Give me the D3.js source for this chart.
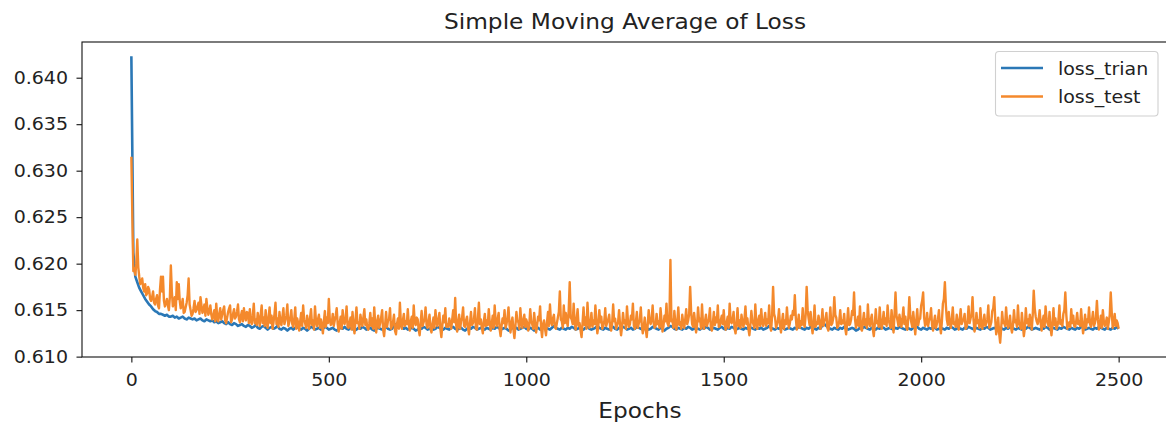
<!DOCTYPE html>
<html>
<head>
<meta charset="utf-8">
<script src="https://cdn.jsdelivr.net/npm/d3@7"></script>
<style>
  body { margin: 0; background: #fff; }
  svg { display: block; }
  text { font-family: "DejaVu Sans", sans-serif; fill: #222; }
</style>
</head>
<body>
<svg id="chart" width="1166" height="426"></svg>
<script>
// Moving-average loss. Train loss sampled every 5 epochs, test loss every 2.5 epochs (0 .. 2500)
const trainStep = 5;
const testStep = 2.5;

const lossTrain = [
  0.6423,0.6212,0.6186,0.6180,0.6174,0.6170,0.6166,0.6162,0.6159,0.6156,0.6154,0.6151,0.6149,0.6148,0.6146,0.6146,0.6145,0.6144,0.6145,0.6143,
  0.6143,0.6144,0.6142,0.6143,0.6141,0.6142,0.6143,0.6141,0.6140,0.6142,0.6141,0.6140,0.6141,0.6139,0.6140,0.6141,0.6139,0.6138,0.6140,0.6139,
  0.6138,0.6139,0.6137,0.6138,0.6136,0.6137,0.6138,0.6136,0.6135,0.6137,0.6135,0.6134,0.6136,0.6135,0.6133,0.6134,0.6135,0.6133,0.6132,0.6134,
  0.6133,0.6131,0.6132,0.6134,0.6131,0.6130,0.6132,0.6133,0.6131,0.6129,0.6131,0.6132,0.6130,0.6131,0.6133,0.6130,0.6129,0.6131,0.6130,0.6128,
  0.6130,0.6131,0.6129,0.6131,0.6132,0.6130,0.6129,0.6131,0.6130,0.6128,0.6130,0.6132,0.6131,0.6129,0.6130,0.6131,0.6129,0.6130,0.6132,0.6131,
  0.6129,0.6130,0.6131,0.6129,0.6128,0.6130,0.6131,0.6130,0.6132,0.6130,0.6129,0.6131,0.6130,0.6128,0.6129,0.6131,0.6130,0.6132,0.6131,0.6129,
  0.6130,0.6131,0.6129,0.6128,0.6130,0.6131,0.6130,0.6129,0.6131,0.6132,0.6130,0.6129,0.6130,0.6133,0.6135,0.6136,0.6134,0.6132,0.6130,0.6131,
  0.6129,0.6130,0.6131,0.6130,0.6128,0.6129,0.6131,0.6130,0.6132,0.6131,0.6129,0.6130,0.6131,0.6129,0.6130,0.6132,0.6131,0.6130,0.6129,0.6131,
  0.6130,0.6129,0.6131,0.6132,0.6130,0.6129,0.6130,0.6131,0.6129,0.6128,0.6130,0.6131,0.6130,0.6132,0.6131,0.6129,0.6130,0.6131,0.6130,0.6129,
  0.6131,0.6130,0.6129,0.6131,0.6130,0.6132,0.6131,0.6129,0.6130,0.6131,0.6130,0.6128,0.6129,0.6131,0.6130,0.6131,0.6129,0.6130,0.6131,0.6132,
  0.6130,0.6129,0.6131,0.6130,0.6128,0.6130,0.6131,0.6129,0.6130,0.6132,0.6131,0.6130,0.6129,0.6131,0.6133,0.6131,0.6130,0.6129,0.6131,0.6130,
  0.6129,0.6131,0.6130,0.6132,0.6131,0.6129,0.6130,0.6131,0.6130,0.6129,0.6131,0.6132,0.6130,0.6129,0.6130,0.6131,0.6133,0.6131,0.6130,0.6129,
  0.6131,0.6130,0.6129,0.6131,0.6132,0.6130,0.6129,0.6131,0.6130,0.6132,0.6131,0.6129,0.6130,0.6131,0.6129,0.6130,0.6132,0.6131,0.6130,0.6129,
  0.6130,0.6131,0.6129,0.6130,0.6132,0.6131,0.6130,0.6129,0.6131,0.6130,0.6128,0.6130,0.6131,0.6133,0.6132,0.6130,0.6129,0.6131,0.6130,0.6129,
  0.6131,0.6130,0.6132,0.6131,0.6129,0.6130,0.6131,0.6130,0.6129,0.6131,0.6130,0.6132,0.6131,0.6129,0.6130,0.6131,0.6130,0.6129,0.6131,0.6132,
  0.6130,0.6129,0.6131,0.6130,0.6132,0.6131,0.6129,0.6130,0.6131,0.6130,0.6129,0.6131,0.6130,0.6132,0.6131,0.6130,0.6129,0.6131,0.6130,0.6131,
  0.6129,0.6130,0.6131,0.6133,0.6131,0.6130,0.6129,0.6131,0.6130,0.6132,0.6131,0.6129,0.6130,0.6131,0.6130,0.6129,0.6131,0.6130,0.6132,0.6131,
  0.6130,0.6129,0.6131,0.6130,0.6132,0.6131,0.6130,0.6129,0.6131,0.6130,0.6134,0.6135,0.6133,0.6131,0.6130,0.6129,0.6131,0.6130,0.6129,0.6131,
  0.6130,0.6132,0.6131,0.6129,0.6130,0.6131,0.6130,0.6128,0.6129,0.6131,0.6130,0.6132,0.6131,0.6130,0.6129,0.6131,0.6130,0.6129,0.6131,0.6130,
  0.6132,0.6131,0.6129,0.6130,0.6131,0.6130,0.6129,0.6131,0.6130,0.6132,0.6131,0.6130,0.6129,0.6131,0.6130,0.6129,0.6131,0.6133,0.6132,0.6130,
  0.6129,0.6131,0.6130,0.6129,0.6131,0.6130,0.6132,0.6131,0.6129,0.6130,0.6131,0.6130,0.6129,0.6131,0.6130,0.6132,0.6131,0.6129,0.6130,0.6131,
  0.6130,0.6129,0.6131,0.6130,0.6132,0.6131,0.6130,0.6129,0.6131,0.6130,0.6129,0.6131,0.6130,0.6132,0.6131,0.6129,0.6130,0.6131,0.6130,0.6129,
  0.6131,0.6130,0.6129,0.6131,0.6130,0.6132,0.6131,0.6130,0.6129,0.6131,0.6130,0.6129,0.6131,0.6130,0.6132,0.6131,0.6129,0.6130,0.6131,0.6130,
  0.6129,0.6131,0.6130,0.6132,0.6131,0.6129,0.6130,0.6131,0.6130,0.6129,0.6131,0.6130,0.6132,0.6131,0.6130,0.6129,0.6131,0.6130,0.6129,0.6131,
  0.6130,0.6132,0.6131,0.6129,0.6130,0.6131,0.6130,0.6129,0.6131,0.6130,0.6132,0.6131,0.6130,0.6129,0.6131,0.6130,0.6129,0.6131,0.6130,0.6132,
  0.6130
];

const lossTest = [
  0.6315,0.6250,0.6192,0.6195,0.6188,0.6200,0.6226,0.6196,0.6186,0.6178,0.6180,0.6184,0.6174,0.6170,0.6178,0.6166,0.6168,0.6175,0.6172,0.6162,0.6160,0.6164,0.6170,0.6158,0.6156,0.6162,0.6166,0.6155,0.6152,0.6172,0.6186,0.6170,0.6186,0.6160,0.6154,0.6158,0.6162,0.6155,0.6150,0.6164,
  0.6198,0.6170,0.6154,0.6158,0.6164,0.6150,0.6180,0.6162,0.6178,0.6160,0.6152,0.6155,0.6162,0.6147,0.6148,0.6153,0.6158,0.6166,0.6184,0.6156,0.6150,0.6144,0.6146,0.6152,0.6160,0.6148,0.6150,0.6154,0.6158,0.6146,0.6164,0.6155,0.6147,0.6150,0.6156,0.6144,0.6162,0.6152,0.6145,0.6149,
  0.6155,0.6145,0.6140,0.6144,0.6150,0.6138,0.6157,0.6142,0.6138,0.6146,0.6152,0.6140,0.6145,0.6150,0.6154,0.6139,0.6136,0.6142,0.6148,0.6152,0.6155,0.6137,0.6140,0.6146,0.6151,0.6141,0.6143,0.6148,0.6156,0.6140,0.6137,0.6144,0.6149,0.6138,0.6152,0.6143,0.6139,0.6148,0.6147,0.6136,
  0.6151,0.6138,0.6135,0.6144,0.6157,0.6136,0.6140,0.6134,0.6147,0.6140,0.6133,0.6145,0.6155,0.6136,0.6142,0.6133,0.6150,0.6138,0.6131,0.6142,0.6153,0.6136,0.6144,0.6130,0.6137,0.6146,0.6158,0.6135,0.6141,0.6132,0.6148,0.6137,0.6134,0.6143,0.6152,0.6135,0.6139,0.6144,0.6156,0.6133,
  0.6137,0.6142,0.6150,0.6135,0.6132,0.6140,0.6153,0.6130,0.6141,0.6136,0.6128,0.6138,0.6147,0.6133,0.6155,0.6140,0.6136,0.6131,0.6144,0.6136,0.6130,0.6142,0.6151,0.6134,0.6139,0.6129,0.6154,0.6138,0.6133,0.6140,0.6145,0.6131,0.6140,0.6134,0.6125,0.6138,0.6149,0.6132,0.6142,0.6136,
  0.6162,0.6140,0.6134,0.6136,0.6146,0.6133,0.6139,0.6144,0.6152,0.6135,0.6127,0.6136,0.6143,0.6130,0.6150,0.6138,0.6135,0.6141,0.6154,0.6132,0.6131,0.6137,0.6142,0.6129,0.6148,0.6134,0.6125,0.6139,0.6153,0.6136,0.6137,0.6130,0.6145,0.6138,0.6133,0.6142,0.6151,0.6134,0.6140,0.6131,
  0.6129,0.6136,0.6147,0.6133,0.6141,0.6130,0.6153,0.6135,0.6126,0.6138,0.6144,0.6131,0.6136,0.6142,0.6150,0.6129,0.6122,0.6134,0.6148,0.6132,0.6139,0.6140,0.6152,0.6130,0.6133,0.6137,0.6145,0.6128,0.6124,0.6135,0.6141,0.6130,0.6158,0.6136,0.6130,0.6139,0.6146,0.6133,0.6138,0.6135,
  0.6151,0.6135,0.6128,0.6138,0.6143,0.6131,0.6155,0.6137,0.6134,0.6142,0.6140,0.6129,0.6123,0.6136,0.6149,0.6133,0.6137,0.6140,0.6153,0.6134,0.6131,0.6138,0.6145,0.6130,0.6126,0.6135,0.6142,0.6131,0.6150,0.6138,0.6133,0.6140,0.6147,0.6130,0.6121,0.6134,0.6144,0.6137,0.6152,0.6132,
  0.6135,0.6132,0.6141,0.6136,0.6130,0.6140,0.6150,0.6137,0.6163,0.6134,0.6127,0.6138,0.6145,0.6130,0.6138,0.6142,0.6153,0.6133,0.6132,0.6139,0.6143,0.6131,0.6124,0.6136,0.6148,0.6134,0.6136,0.6140,0.6152,0.6130,0.6129,0.6141,0.6158,0.6135,0.6140,0.6131,0.6125,0.6138,0.6146,0.6133,
  0.6139,0.6134,0.6151,0.6137,0.6128,0.6135,0.6144,0.6131,0.6155,0.6138,0.6133,0.6140,0.6147,0.6130,0.6122,0.6133,0.6141,0.6136,0.6150,0.6131,0.6135,0.6142,0.6153,0.6134,0.6126,0.6137,0.6142,0.6129,0.6120,0.6133,0.6148,0.6138,0.6137,0.6130,0.6152,0.6136,0.6131,0.6140,0.6145,0.6132,
  0.6140,0.6136,0.6128,0.6133,0.6151,0.6138,0.6135,0.6130,0.6147,0.6135,0.6126,0.6134,0.6143,0.6139,0.6154,0.6131,0.6121,0.6135,0.6139,0.6130,0.6123,0.6137,0.6148,0.6133,0.6156,0.6138,0.6134,0.6141,0.6145,0.6132,0.6130,0.6136,0.6142,0.6148,0.6170,0.6140,0.6138,0.6131,0.6155,0.6136,
  0.6147,0.6138,0.6133,0.6150,0.6180,0.6142,0.6140,0.6135,0.6157,0.6137,0.6129,0.6140,0.6151,0.6133,0.6136,0.6128,0.6121,0.6136,0.6153,0.6134,0.6142,0.6130,0.6158,0.6138,0.6131,0.6136,0.6147,0.6132,0.6139,0.6135,0.6155,0.6139,0.6125,0.6133,0.6150,0.6137,0.6143,0.6130,0.6133,0.6138,
  0.6152,0.6133,0.6137,0.6140,0.6145,0.6131,0.6128,0.6136,0.6156,0.6138,0.6141,0.6130,0.6134,0.6137,0.6150,0.6134,0.6123,0.6132,0.6147,0.6136,0.6139,0.6130,0.6154,0.6138,0.6132,0.6135,0.6144,0.6140,0.6157,0.6133,0.6130,0.6137,0.6148,0.6131,0.6136,0.6139,0.6153,0.6134,0.6125,0.6132,
  0.6142,0.6130,0.6121,0.6134,0.6150,0.6138,0.6135,0.6140,0.6155,0.6136,0.6131,0.6133,0.6146,0.6135,0.6138,0.6131,0.6152,0.6139,0.6127,0.6133,0.6144,0.6138,0.6157,0.6136,0.6133,0.6140,0.6204,0.6138,0.6140,0.6131,0.6149,0.6136,0.6129,0.6138,0.6153,0.6134,0.6137,0.6130,0.6145,0.6136,
  0.6131,0.6140,0.6151,0.6135,0.6139,0.6146,0.6175,0.6148,0.6135,0.6132,0.6147,0.6137,0.6126,0.6134,0.6153,0.6138,0.6141,0.6130,0.6156,0.6135,0.6130,0.6138,0.6145,0.6133,0.6137,0.6140,0.6152,0.6131,0.6128,0.6136,0.6148,0.6134,0.6142,0.6137,0.6155,0.6132,0.6133,0.6139,0.6144,0.6135,
  0.6150,0.6134,0.6129,0.6137,0.6143,0.6131,0.6157,0.6138,0.6136,0.6140,0.6148,0.6130,0.6125,0.6136,0.6152,0.6133,0.6139,0.6131,0.6145,0.6137,0.6132,0.6140,0.6154,0.6135,0.6141,0.6130,0.6123,0.6134,0.6149,0.6138,0.6135,0.6131,0.6156,0.6136,0.6130,0.6139,0.6144,0.6133,0.6151,0.6137,
  0.6133,0.6138,0.6147,0.6133,0.6140,0.6136,0.6155,0.6132,0.6128,0.6144,0.6175,0.6146,0.6142,0.6131,0.6135,0.6139,0.6151,0.6134,0.6126,0.6137,0.6146,0.6130,0.6139,0.6135,0.6153,0.6138,0.6131,0.6136,0.6144,0.6140,0.6149,0.6145,0.6166,0.6142,0.6129,0.6135,0.6145,0.6131,0.6138,0.6134,
  0.6152,0.6136,0.6132,0.6145,0.6175,0.6150,0.6141,0.6134,0.6148,0.6133,0.6125,0.6137,0.6155,0.6132,0.6137,0.6135,0.6144,0.6138,0.6130,0.6136,0.6151,0.6133,0.6139,0.6140,0.6147,0.6131,0.6128,0.6137,0.6153,0.6134,0.6136,0.6142,0.6164,0.6145,0.6142,0.6131,0.6133,0.6138,0.6150,0.6135,
  0.6139,0.6136,0.6146,0.6131,0.6124,0.6137,0.6152,0.6134,0.6135,0.6140,0.6149,0.6145,0.6169,0.6140,0.6131,0.6136,0.6143,0.6133,0.6154,0.6130,0.6128,0.6138,0.6147,0.6134,0.6140,0.6131,0.6156,0.6137,0.6133,0.6140,0.6145,0.6130,0.6122,0.6135,0.6151,0.6136,0.6138,0.6132,0.6153,0.6137,
  0.6130,0.6138,0.6148,0.6135,0.6141,0.6133,0.6155,0.6140,0.6135,0.6131,0.6150,0.6136,0.6126,0.6145,0.6169,0.6144,0.6139,0.6133,0.6145,0.6137,0.6132,0.6141,0.6153,0.6135,0.6143,0.6131,0.6129,0.6142,0.6164,0.6144,0.6137,0.6132,0.6148,0.6136,0.6124,0.6138,0.6151,0.6134,0.6140,0.6141,
  0.6155,0.6160,0.6169,0.6142,0.6133,0.6136,0.6147,0.6133,0.6139,0.6141,0.6152,0.6134,0.6128,0.6137,0.6144,0.6131,0.6136,0.6140,0.6150,0.6133,0.6125,0.6138,0.6157,0.6162,0.6180,0.6155,0.6140,0.6134,0.6148,0.6137,0.6131,0.6139,0.6153,0.6135,0.6137,0.6132,0.6145,0.6136,0.6129,0.6140,
  0.6151,0.6135,0.6138,0.6140,0.6146,0.6130,0.6132,0.6138,0.6154,0.6136,0.6141,0.6145,0.6164,0.6140,0.6127,0.6133,0.6147,0.6136,0.6139,0.6131,0.6152,0.6135,0.6130,0.6138,0.6145,0.6133,0.6136,0.6140,0.6155,0.6131,0.6133,0.6137,0.6149,0.6152,0.6164,0.6140,0.6124,0.6130,0.6142,0.6125,
  0.6115,0.6130,0.6148,0.6136,0.6137,0.6133,0.6153,0.6138,0.6131,0.6135,0.6144,0.6131,0.6126,0.6134,0.6150,0.6137,0.6139,0.6132,0.6155,0.6136,0.6133,0.6130,0.6147,0.6134,0.6122,0.6131,0.6152,0.6136,0.6140,0.6133,0.6145,0.6138,0.6129,0.6145,0.6171,0.6152,0.6143,0.6138,0.6135,0.6140,
  0.6150,0.6136,0.6128,0.6138,0.6144,0.6132,0.6154,0.6140,0.6136,0.6133,0.6148,0.6131,0.6123,0.6136,0.6152,0.6134,0.6141,0.6130,0.6133,0.6139,0.6155,0.6135,0.6139,0.6133,0.6146,0.6150,0.6169,0.6145,0.6130,0.6135,0.6137,0.6132,0.6151,0.6136,0.6144,0.6133,0.6132,0.6138,0.6147,0.6135,
  0.6138,0.6133,0.6151,0.6136,0.6125,0.6134,0.6145,0.6131,0.6140,0.6137,0.6153,0.6135,0.6132,0.6139,0.6148,0.6133,0.6136,0.6142,0.6160,0.6140,0.6129,0.6135,0.6144,0.6131,0.6150,0.6138,0.6133,0.6136,0.6142,0.6130,0.6137,0.6145,0.6169,0.6148,0.6131,0.6135,0.6146,0.6133,0.6139,0.6136,
  0.6130
];

const epochsTrain = d3.range(lossTrain.length).map(i => i * trainStep);
const epochsTest = d3.range(lossTest.length).map(i => i * testStep);

const xTicks = [0, 500, 1000, 1500, 2000, 2500];
const yTicks = [0.610, 0.615, 0.620, 0.625, 0.630, 0.635, 0.640];
const seriesNames = ["loss_trian", "loss_test"];
const seriesColors = ["#2b78b6", "#f4892c"];
const seriesWidths = [2.6, 2.4];
const titleText = "Simple Moving Average of Loss";
const xLabelText = "Epochs";

// Layout
const plot = { left: 82, top: 42, right: 1168, bottom: 357 };
const textStretch = 1.13;   // glyphs are a little wider than the font's natural width
const tickFont = 16.8;
const labelFont = 20.6;

const svg = d3.select("#chart");

const x = d3.scaleLinear().domain([-125, 2625]).range([plot.left, plot.right]);
const y = d3.scaleLinear().domain([0.60996, 0.64384]).range([plot.bottom, plot.top]);

function stretchText(sel, sx) {
  sel.each(function () {
    const t = d3.select(this);
    const tx = +t.attr("x") || 0;
    const ty = +t.attr("y") || 0;
    t.attr("x", 0).attr("y", 0)
     .attr("transform", `translate(${tx},${ty}) scale(${sx},1)`);
  });
}

// Clip region for the plotted lines
svg.append("defs").append("clipPath").attr("id", "plot-clip")
  .append("rect")
  .attr("x", plot.left).attr("y", plot.top)
  .attr("width", plot.right - plot.left).attr("height", plot.bottom - plot.top);

// Loss lines
const series = [
  { values: lossTrain, epochs: epochsTrain },
  { values: lossTest, epochs: epochsTest }
];

const linesG = svg.append("g").attr("clip-path", "url(#plot-clip)");
series.forEach((s, k) => {
  const line = d3.line()
    .x((d, i) => x(s.epochs[i]))
    .y(d => y(d));
  linesG.append("path")
    .datum(s.values)
    .attr("d", line)
    .attr("fill", "none")
    .attr("stroke", seriesColors[k])
    .attr("stroke-width", seriesWidths[k])
    .attr("stroke-linejoin", "round")
    .attr("stroke-linecap", "butt");
});

// Axes
const xAxis = svg.append("g")
  .attr("transform", `translate(0,${plot.bottom})`)
  .call(d3.axisBottom(x).tickValues(xTicks).tickFormat(d3.format("d"))
        .tickSize(5.5).tickPadding(12).tickSizeOuter(0));
const yAxis = svg.append("g")
  .attr("transform", `translate(${plot.left},0)`)
  .call(d3.axisLeft(y).tickValues(yTicks).tickFormat(d3.format(".3f"))
        .tickSize(5.5).tickPadding(8.5).tickSizeOuter(0));

[xAxis, yAxis].forEach(g => {
  g.select(".domain").remove();
  g.selectAll(".tick line").attr("stroke", "#111").attr("stroke-width", 1.1);
  g.selectAll(".tick text")
    .attr("font-family", "DejaVu Sans, sans-serif")
    .attr("font-size", tickFont)
    .attr("fill", "#222");
  stretchText(g.selectAll(".tick text"), textStretch);
});

// Frame around the plotting area
svg.append("rect")
  .attr("x", plot.left).attr("y", plot.top)
  .attr("width", plot.right - plot.left).attr("height", plot.bottom - plot.top)
  .attr("fill", "none").attr("stroke", "#111").attr("stroke-width", 1.1);

// Title and axis label
svg.append("text")
  .attr("x", 625).attr("y", 29)
  .attr("text-anchor", "middle").attr("font-size", labelFont)
  .text(titleText)
  .call(stretchText, textStretch);

svg.append("text")
  .attr("x", 640).attr("y", 418)
  .attr("text-anchor", "middle").attr("font-size", labelFont)
  .text(xLabelText)
  .call(stretchText, textStretch);

// Legend
const legend = svg.append("g");
legend.append("rect")
  .attr("x", 995.5).attr("y", 51.5).attr("width", 162.5).attr("height", 64.5)
  .attr("rx", 3.5).attr("ry", 3.5)
  .attr("fill", "#fff").attr("fill-opacity", 0.8)
  .attr("stroke", "#d0d0d0").attr("stroke-width", 1.1);
seriesNames.forEach((name, k) => {
  const ly = 68 + k * 28.5;
  legend.append("line")
    .attr("x1", 1001).attr("x2", 1043).attr("y1", ly).attr("y2", ly)
    .attr("stroke", seriesColors[k]).attr("stroke-width", 2.6);
  legend.append("text")
    .attr("x", 1058).attr("y", ly + 6.5)
    .attr("font-size", tickFont)
    .text(name)
    .call(stretchText, textStretch);
});
</script>
</body>
</html>
